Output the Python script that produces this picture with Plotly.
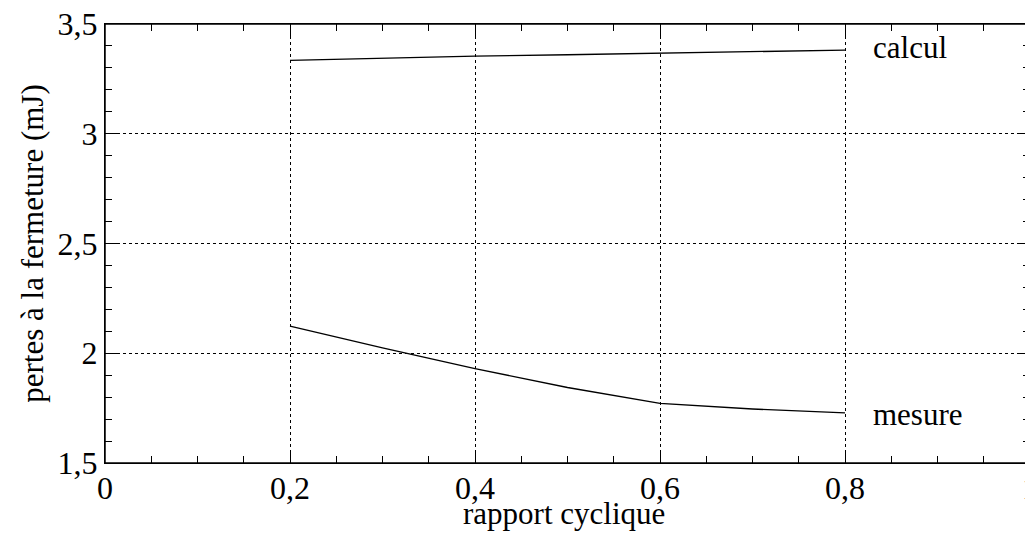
import plotly.graph_objects as go

x_vals = [0.2, 0.3, 0.4, 0.5, 0.6, 0.7, 0.8]
calcul = [3.334, 3.345, 3.354, 3.360, 3.366, 3.373, 3.381]
mesure = [2.124, 2.025, 1.930, 1.844, 1.772, 1.746, 1.728]
x_ticks = [0, 0.2, 0.4, 0.6, 0.8, 1]
x_tick_text = ["0", "0,2", "0,4", "0,6", "0,8", "1"]
y_ticks = [1.5, 2, 2.5, 3, 3.5]
y_tick_text = ["1,5", "2", "2,5", "3", "3,5"]

font_family = "Liberation Serif, Times New Roman, serif"

fig = go.Figure()
fig.add_trace(go.Scatter(x=x_vals, y=calcul, mode="lines", line=dict(color="black", width=1.3), name="calcul"))
fig.add_trace(go.Scatter(x=x_vals, y=mesure, mode="lines", line=dict(color="black", width=1.3), name="mesure"))

fig.add_annotation(x=0.870, y=3.395, text="calcul", showarrow=False, font=dict(family=font_family, size=31, color="black"))
fig.add_annotation(x=0.879, y=1.723, text="mesure", showarrow=False, font=dict(family=font_family, size=31, color="black"))
fig.add_annotation(x=0.496, xref="paper", y=-0.071, yref="paper", yanchor="top",
                   text="rapport cyclique", showarrow=False,
                   font=dict(family=font_family, size=31, color="black"))

# frame around the plotting area
fig.add_shape(type="rect", xref="paper", yref="paper", x0=0, x1=1, y0=0, y1=1,
              line=dict(color="black", width=1.5), layer="above")

axis_common = dict(
    showline=True, linecolor="black", linewidth=1.3, mirror="allticks",
    ticks="inside", ticklen=12, tickcolor="black", tickwidth=1,
    showgrid=True, gridcolor="black", griddash="dot", gridwidth=1,
    zeroline=False, automargin=False, ticklabeloverflow="allow",
    tickfont=dict(family=font_family, size=32, color="black"),
)

fig.update_xaxes(
    range=[0, 1], tickvals=x_ticks, ticktext=x_tick_text,
    ticklabelstandoff=-4,
    minor=dict(dtick=0.05, ticks="inside", ticklen=7, tickcolor="black", showgrid=False),
    **axis_common,
)
fig.update_yaxes(
    range=[1.5, 3.5], tickvals=y_ticks, ticktext=y_tick_text, ticksuffix=" ",
    minor=dict(dtick=0.1, ticks="inside", ticklen=7, tickcolor="black", showgrid=False),
    title=dict(text="pertes à la fermeture (mJ)", font=dict(family=font_family, size=31, color="black"), standoff=4),
    **axis_common,
)

# page body has an 8px margin: compensate so the plot area sits where the reference's does
fig.update_layout(
    width=1033, height=535,
    margin=dict(l=97, r=11, t=16, b=80),
    plot_bgcolor="white", paper_bgcolor="white",
    showlegend=False,
)

fig.write_html("out.html")
